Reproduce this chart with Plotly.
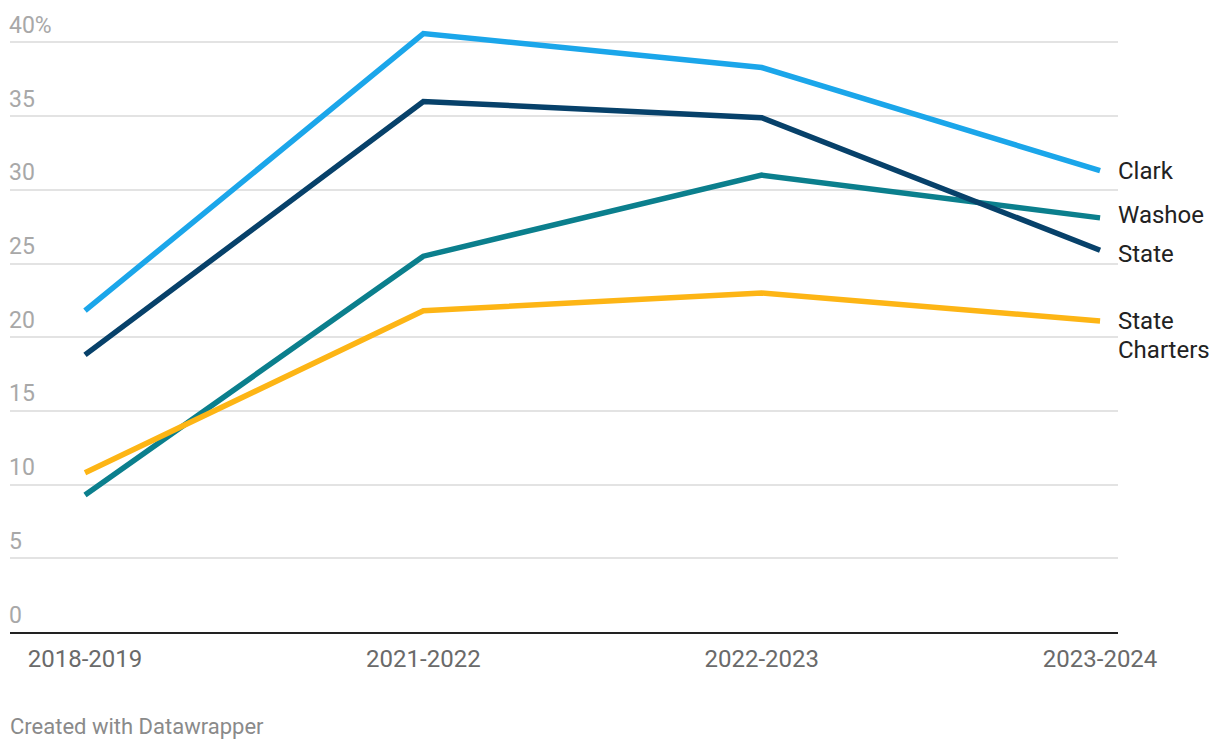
import plotly.graph_objects as go

years = ["2018-2019", "2021-2022", "2022-2023", "2023-2024"]
clark = [21.8, 40.6, 38.3, 31.3]
state = [18.8, 36.0, 34.9, 25.9]
washoe = [9.3, 25.5, 31.0, 28.1]
charters = [10.8, 21.8, 23.0, 21.1]

y_ticks = [0, 5, 10, 15, 20, 25, 30, 35, 40]
y_ticktext = ["0", "5", "10", "15", "20", "25", "30", "35", "40%"]

series = [
    (["Clark"], clark, "#1ba6ea", 0),
    (["Washoe"], washoe, "#0b7f8d", -3),
    (["State"], state, "#07416a", 4),
    (["State", "Charters"], charters, "#fdb515", 0),
]

fig = go.Figure()
for names, vals, color, _ in series:
    fig.add_trace(go.Scatter(
        x=list(range(len(years))), y=vals, mode="lines",
        line=dict(color=color, width=5.5), name=" ".join(names),
        hoverinfo="skip",
    ))

for names, vals, color, ys in series:
    for i, nm in enumerate(names):
        fig.add_annotation(
            x=len(years) - 1, y=vals[-1], xref="x", yref="y",
            text=nm, showarrow=False, xanchor="left", yanchor="middle",
            xshift=16, yshift=-ys - 28.5 * i, align="left",
            font=dict(family="Roboto", size=24, color="#222222"),
        )

# y tick labels sit above their gridlines, Datawrapper style
for v, t in zip(y_ticks, y_ticktext):
    fig.add_annotation(
        x=0, y=v, xref="paper", yref="y", text=t, showarrow=False,
        xanchor="left", yanchor="middle", xshift=-3, yshift=17,
        font=dict(family="Roboto", size=23, color="#a8a8a8"),
    )

fig.add_annotation(
    x=0, y=0, xref="paper", yref="paper", xanchor="left", yanchor="top",
    yshift=-80, xshift=-2, text="Created with Datawrapper", showarrow=False,
    font=dict(family="Roboto", size=22, color="#8a8a8a"),
)

# page body has an 8px margin; compensate so the plot lands where it should
fig.update_layout(
    width=1212, height=742,
    margin=dict(l=2, r=102, t=4.5, b=118),
    paper_bgcolor="white", plot_bgcolor="white",
    showlegend=False,
    font=dict(family="Roboto"),
    xaxis=dict(
        range=[-0.2217, 3.053], tickvals=list(range(len(years))), ticktext=years,
        showgrid=False, zeroline=False, showline=True, linecolor="#222222", linewidth=2,
        ticks="", tickfont=dict(size=24, color="#6a6a6a"), ticklabelstandoff=4,
    ),
    yaxis=dict(
        range=[0, 42], tickvals=y_ticks, showticklabels=False,
        showgrid=True, gridcolor="#e3e3e3", gridwidth=2, zeroline=False,
        ticks="",
    ),
)

fig.write_html("out.html")
